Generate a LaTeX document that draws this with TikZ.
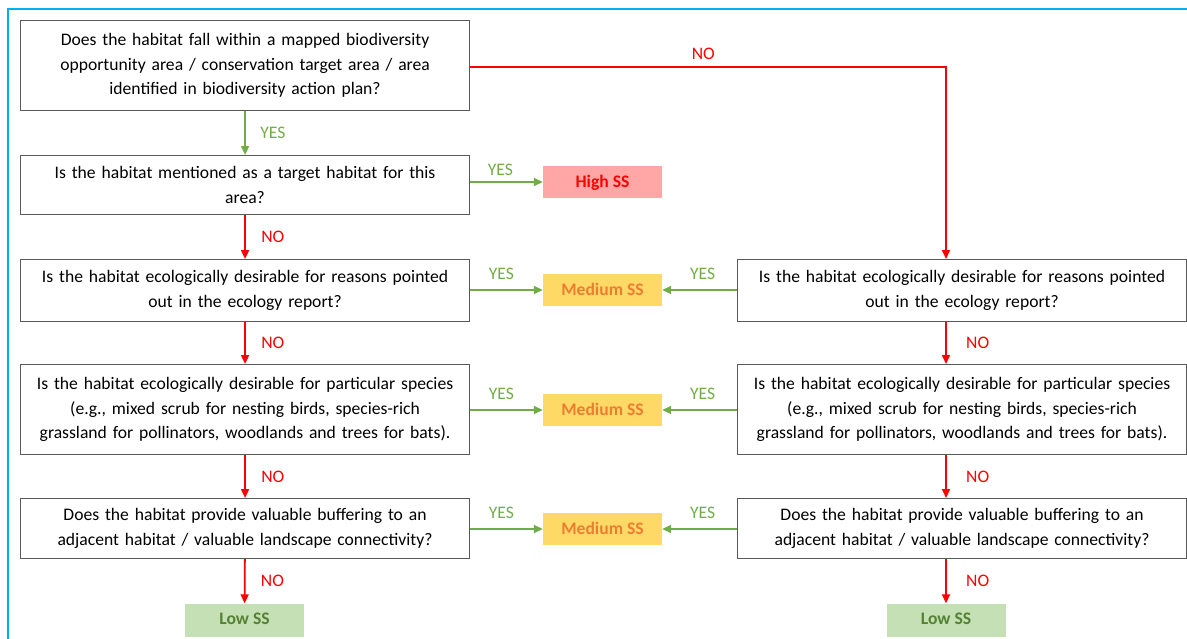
\documentclass[tikz,border=0pt]{standalone}
\usepackage{fontspec}
\setmainfont{Carlito}
\usetikzlibrary{arrows.meta}

\definecolor{frameblue}{HTML}{00B0F0}
\definecolor{yesgreen}{HTML}{70AD47}
\definecolor{highfill}{HTML}{FFA7A7}
\definecolor{medfill}{HTML}{FFD966}
\definecolor{medtext}{HTML}{ED7D31}
\definecolor{lowfill}{HTML}{C5E0B4}
\definecolor{lowtext}{HTML}{548235}

\tikzset{
  question/.style={draw=black!65, line width=1.1pt, anchor=north west, minimum width=449, inner sep=0pt, text width=445, align=center},
  result/.style={minimum width=119, minimum height=32, inner sep=0pt, text depth=2pt, font=\fontsize{17.6}{20}\selectfont\bfseries},
  yesline/.style={draw=yesgreen, line width=1.8pt, -{Triangle[width=8pt,length=9pt]}},
  noline/.style={draw=red, line width=1.8pt, -{Triangle[width=8pt,length=9pt]}},
  yeslabel/.style={text=yesgreen},
  nolabel/.style={text=red}
}

\begin{document}
\begin{tikzpicture}[x=1pt,y=-1pt,font=\fontsize{17.6}{24.5}\selectfont]
\useasboundingbox (0,0) rectangle (1187,638);
\draw[frameblue, line width=2.5pt] (8,640) -- (8,9) -- (1190,9);

% left column
\node[question, minimum height=90] (q1) at (20,20) {Does the habitat fall within a mapped biodiversity\\ opportunity area / conservation target area / area\\ identified in biodiversity action plan?};
\node[question, minimum height=59] (l2) at (20,155) {Is the habitat mentioned as a target habitat for this\\ area?};
\node[question, minimum height=62] (l3) at (20,259) {Is the habitat ecologically desirable for reasons pointed\\ out in the ecology report?};
\node[question, minimum height=90] (l4) at (20,364) {Is the habitat ecologically desirable for particular species\\ (e.g., mixed scrub for nesting birds, species-rich\\ grassland for pollinators, woodlands and trees for bats).};
\node[question, minimum height=60] (l5) at (20,498) {Does the habitat provide valuable buffering to an\\ adjacent habitat / valuable landscape connectivity?};

% right column
\node[question, minimum height=62] (r3) at (737,259) {Is the habitat ecologically desirable for reasons pointed\\ out in the ecology report?};
\node[question, minimum height=90] (r4) at (737,364) {Is the habitat ecologically desirable for particular species\\ (e.g., mixed scrub for nesting birds, species-rich\\ grassland for pollinators, woodlands and trees for bats).};
\node[question, minimum height=60] (r5) at (737,498) {Does the habitat provide valuable buffering to an\\ adjacent habitat / valuable landscape connectivity?};

% results
\node[result, fill=highfill, text=red] (high) at (602.5,182) {High SS};
\node[result, fill=medfill, text=medtext] (med3) at (602.5,290) {Medium SS};
\node[result, fill=medfill, text=medtext] (med4) at (602.5,410) {Medium SS};
\node[result, fill=medfill, text=medtext] (med5) at (602.5,529) {Medium SS};
\node[result, fill=lowfill, text=lowtext, minimum height=33] (lowl) at (244.5,620) {Low SS};
\node[result, fill=lowfill, text=lowtext, minimum height=33] (lowr) at (946,620) {Low SS};
\coordinate (rx) at (946,0);
\coordinate (bend) at (946,67);

% connectors
\draw[yesline] (q1) -- node[yeslabel, right, xshift=11pt] {YES} (l2);
\draw[noline] (l2) -- node[nolabel, right, xshift=12pt] {NO} (l3);
\draw[noline] (l3) -- node[nolabel, right, xshift=12pt] {NO} (l4);
\draw[noline] (l4) -- node[nolabel, right, xshift=12pt] {NO} (l5);
\draw[noline] (l5) -- node[nolabel, right, xshift=12pt] {NO} (lowl);
\draw[noline] (q1.east |- bend) -- node[nolabel, above, pos=.49, yshift=3pt] {NO} (bend) -- (r3.north -| rx);
\draw[noline] (r3.south -| rx) -- node[nolabel, right, xshift=16pt] {NO} (r4.north -| rx);
\draw[noline] (r4.south -| rx) -- node[nolabel, right, xshift=16pt] {NO} (r5.north -| rx);
\draw[noline] (r5.south -| rx) -- node[nolabel, right, xshift=16pt] {NO} (lowr);
\draw[yesline] (l2.east |- high) -- node[yeslabel, above, xshift=-6pt, yshift=2pt] {YES} (high);
\draw[yesline] (l3.east |- med3) -- node[yeslabel, above, xshift=-5pt, yshift=6pt] {YES} (med3);
\draw[yesline] (l4.east |- med4) -- node[yeslabel, above, xshift=-5pt, yshift=6pt] {YES} (med4);
\draw[yesline] (l5.east |- med5) -- node[yeslabel, above, xshift=-5pt, yshift=6pt] {YES} (med5);
\draw[yesline] (r3.west |- med3) -- node[yeslabel, above, xshift=3pt, yshift=6pt] {YES} (med3);
\draw[yesline] (r4.west |- med4) -- node[yeslabel, above, xshift=3pt, yshift=6pt] {YES} (med4);
\draw[yesline] (r5.west |- med5) -- node[yeslabel, above, xshift=3pt, yshift=6pt] {YES} (med5);
\end{tikzpicture}
\end{document}
